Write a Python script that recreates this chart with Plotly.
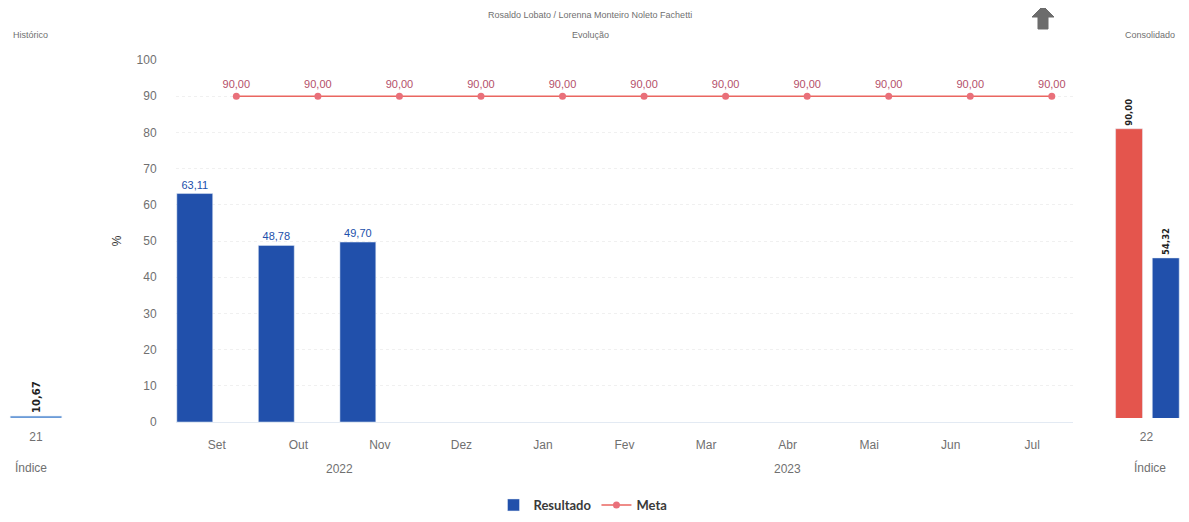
import plotly.graph_objects as go

# ---- data ----
months = ["Set", "Out", "Nov", "Dez", "Jan", "Fev", "Mar", "Abr", "Mai", "Jun", "Jul"]
resultado = [63.11, 48.78, 49.70, None, None, None, None, None, None, None, None]
meta = [90.0] * 11
years = ["2022", "2023"]
year_pos = [1.5, 7.0]

hist_cat = ["21"]
hist_val = [10.67]

cons_cat = ["22"]
cons_meta = [90.00]
cons_result = [54.32]

title_text = "Rosaldo Lobato / Lorenna Monteiro Noleto Fachetti"

BLUE = "#2150ab"
RED = "#e4554d"
GRAY = "#707070"

# page offset (body margin) compensation
OFF = 8
W, H = 1189 - 2 * OFF, 522 - 2 * OFF
def px(x): return (x - OFF) / W
def py(y): return 1 - (y - OFF) / H

fig = go.Figure()

# main bars
fig.add_trace(go.Bar(
    x=months, y=resultado, name="Resultado", marker_color=BLUE,
    offset=-0.49, width=0.44,
    texttemplate="%{y:.2f}", textposition="outside", cliponaxis=False,
    textfont=dict(color=BLUE, size=11, family="Liberation Sans"),
    xaxis="x2", yaxis="y2",
))
# meta line (overlay axis shifted)
fig.add_trace(go.Scatter(
    x=months, y=meta, name="Meta", mode="lines+markers+text",
    line=dict(color="#ea6660", width=1.5), marker=dict(color="#e9707a", size=7, symbol="circle"),
    texttemplate="%{y:.2f}", textposition="top center",
    textfont=dict(color="#b4506a", size=11, family="Liberation Sans"),
    cliponaxis=False,
    xaxis="x3", yaxis="y2",
))
# historico
fig.add_trace(go.Bar(
    x=hist_cat, y=hist_val, marker_color="#6b9bd8", showlegend=False, width=0.92,
    texttemplate="<b>%{y:.2f}</b>", textposition="outside", textangle=-90, cliponaxis=False,
    textfont=dict(color="#222222", size=10, family="DejaVu Sans"),
    xaxis="x", yaxis="y",
))
# consolidado
fig.add_trace(go.Bar(
    x=cons_cat, y=cons_meta, marker_color=RED, showlegend=False, offset=-0.448, width=0.39,
    texttemplate="<b>%{y:.2f}</b>", textposition="outside", textangle=-90, cliponaxis=False,
    textfont=dict(color="#222222", size=10, family="DejaVu Sans"),
    xaxis="x4", yaxis="y4",
))
fig.add_trace(go.Bar(
    x=cons_cat, y=cons_result, marker_color=BLUE, showlegend=False, offset=0.084, width=0.39,
    texttemplate="<b>%{y:.2f}</b>", textposition="outside", textangle=-90, cliponaxis=False,
    textfont=dict(color="#222222", size=10, family="DejaVu Sans"),
    xaxis="x4", yaxis="y4",
))

side_range = [10.1, 110.4]
main_dom_y = [py(422), py(60)]
side_dom_y = [py(418), py(418 - 3.62 * (side_range[1] - side_range[0]))]

tickfont = dict(color=GRAY, size=12, family="Liberation Sans")

fig.update_layout(
    width=W, height=H,
    margin=dict(l=0, r=0, t=0, b=0, autoexpand=False),
    paper_bgcolor="white", plot_bgcolor="white",
    separators=",.",
    barmode="group",
    showlegend=True,
    legend=dict(orientation="h", x=px(583), xanchor="center", y=py(505), yanchor="middle",
                font=dict(size=13, color="#3a3a3a", family="Lato", weight="bold"),
                traceorder="normal", bgcolor="rgba(0,0,0,0)"),
    xaxis=dict(domain=[0, px(64)], type="category", showgrid=False, zeroline=False, automargin=False,
               ticks="outside", ticklen=8, tickcolor="rgba(0,0,0,0)", tickfont=tickfont),
    yaxis=dict(domain=side_dom_y, range=side_range, visible=False, anchor="x", automargin=False),
    xaxis2=dict(domain=[px(176), px(1073)], type="category", anchor="y2", automargin=False,
                range=[-0.5, 10.5], showgrid=False, zeroline=False,
                ticks="outside", ticklen=12, tickcolor="rgba(0,0,0,0)", tickfont=tickfont,
                showline=True, linecolor="#e3eaf3", linewidth=1),
    xaxis3=dict(domain=[px(176), px(1073)], type="category", anchor="y2", overlaying="x2",
                range=[-0.5 - 0.24, 10.5 - 0.24], visible=False, automargin=False),
    yaxis2=dict(domain=main_dom_y, range=[0, 100], dtick=10, anchor="x2", automargin=False,
                showgrid=True, gridcolor="#f0f0f0", griddash="dot", gridwidth=1,
                zeroline=False, tickfont=tickfont,
                ticks="outside", ticklen=16, tickcolor="rgba(0,0,0,0)",
                title=dict(text="%", font=dict(size=12, color="#333333", family="Liberation Sans"),
                           standoff=12)),
    xaxis4=dict(domain=[px(1112), 1], type="category", anchor="y4", showgrid=False, zeroline=False,
                automargin=False,
                ticks="outside", ticklen=8, tickcolor="rgba(0,0,0,0)", tickfont=tickfont),
    yaxis4=dict(domain=side_dom_y, range=side_range, visible=False, anchor="x4", automargin=False),
)

ann_font = dict(size=9, color=GRAY, family="Liberation Sans")
def ann(text, x, y, font, xref="paper"):
    return dict(text=text, x=x, y=py(y), xref=xref, yref="paper", showarrow=False,
                xanchor="center", yanchor="middle", font=font)

big = dict(size=12, color=GRAY, family="Liberation Sans")
annotations = [
    ann(title_text, px(590), 15, ann_font),
    ann("Evolução", px(590), 35, ann_font),
    ann("Histórico", px(30), 35, ann_font),
    ann("Consolidado", px(1150), 35, ann_font),
    ann("Índice", px(31), 467, big),
    ann("Índice", px(1150), 467, big),
]
for yr, pos in zip(years, year_pos):
    annotations.append(ann(yr, pos, 469, big, xref="x2"))
fig.update_layout(annotations=annotations)

# decorative "up" arrow icon (top right)
icon = [(1043, 6), (1054, 17), (1048, 17), (1048, 29), (1038, 29), (1038, 17), (1032, 17)]
path = "M " + " L ".join(f"{px(a):.5f},{py(b):.5f}" for a, b in icon) + " Z"
fig.add_shape(type="path", path=path, xref="paper", yref="paper",
              fillcolor="#6c6c6c", line=dict(color="#6c6c6c", width=1))

fig.write_html("out.html")
